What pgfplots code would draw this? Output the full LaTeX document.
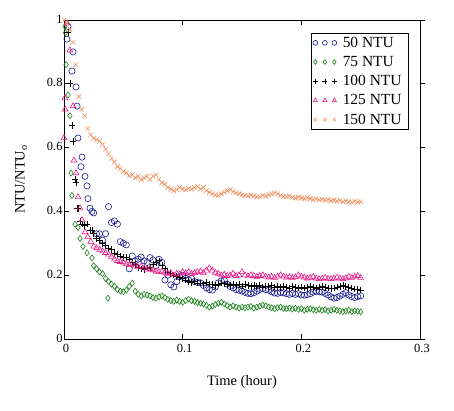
\documentclass[border=0pt]{standalone}
\usepackage{pgfplots}
\pgfplotsset{compat=1.18}
\usepackage{fontspec}
\setmainfont{Liberation Serif}
\definecolor{cblue}{RGB}{25,25,140}
\definecolor{cgreen}{RGB}{30,130,30}
\definecolor{cmag}{RGB}{230,25,135}
\definecolor{corange}{RGB}{240,145,95}
\newcommand{\legtxt}[1]{\hspace*{4bp}\makebox[62bp][l]{#1}}
\begin{document}
\begin{tikzpicture}
\useasboundingbox (-64bp,-72bp) rectangle (390bp,339bp);
\begin{axis}[
  at={(0,0)}, anchor=south west,
  scale only axis, width=356bp, height=319bp,
  xmin=0, xmax=0.3, ymin=0, ymax=1,
  xtick={0,0.1,0.2,0.3}, ytick={0,0.2,0.4,0.6,0.8,1},
  xticklabels={0,0.1,0.2,0.3}, yticklabels={0,0.2,0.4,0.6,0.8,1},
  tick align=inside, xtick pos=both, ytick pos=left,
  major tick length=5bp,
  tick style={black, line width=0.6pt},
  axis line style={line width=0.8pt},
  ticklabel style={font=\fontsize{12.5}{13}\selectfont},
  xticklabel style={yshift=-1.5bp, xshift=2bp},
  yticklabel style={xshift=2bp, yshift=1bp},
  xlabel={Time (hour)}, ylabel={NTU/NTU\textsubscript{o}},
  label style={font=\fontsize{14.5}{15}\selectfont},
  xlabel style={at={(axis description cs:0.5,0)}, anchor=center, yshift=-43bp},
  ylabel style={at={(axis description cs:0,0.5)}, anchor=center, rotate=0, yshift=43bp},
  clip=false,
  legend style={at={(0.694,0.959)}, anchor=north west, draw=black, line width=0.8pt,
    font=\fontsize{15.5}{16}\selectfont, row sep=3.5bp, inner sep=1.5bp,
    cells={anchor=west}},
  legend image code/.code={\draw[mark repeat=1, mark size=2.4bp] plot coordinates {(0bp,0bp)(9.5bp,0bp)(19bp,0bp)};},
]
\addplot[only marks, mark=o, mark size=3.1bp, cblue, line width=0.6pt] coordinates {
(0.0025,0.94)(0.0034,0.98)(0.0067,0.84)(0.0076,0.90)(0.0101,0.79)(0.011,0.73)(0.0118,0.63)
(0.0143,0.54)(0.0152,0.57)(0.0177,0.51)(0.0194,0.48)(0.0202,0.44)(0.0219,0.41)(0.0236,0.40)
(0.025,0.395)(0.0275,0.33)(0.03,0.33)(0.0325,0.31)(0.035,0.33)(0.0375,0.415)(0.04,0.365)
(0.0425,0.37)(0.045,0.36)(0.0475,0.305)(0.05,0.30)(0.0525,0.295)(0.055,0.22)(0.0575,0.26)
(0.06,0.245)(0.0625,0.25)(0.065,0.257)(0.0675,0.245)(0.07,0.24)(0.0725,0.255)(0.075,0.248)
(0.0775,0.23)(0.08,0.25)(0.0825,0.24)(0.085,0.185)(0.0875,0.20)(0.09,0.17)(0.0925,0.163)
(0.095,0.18)(0.0975,0.195)(0.1,0.20)(0.1025,0.19)(0.105,0.185)(0.1075,0.19)(0.11,0.18)
(0.1125,0.177)(0.115,0.176)(0.1175,0.168)(0.12,0.16)(0.1225,0.155)(0.125,0.153)(0.1275,0.163)
(0.13,0.176)(0.1325,0.182)(0.135,0.185)(0.1375,0.172)(0.14,0.165)(0.1425,0.16)(0.145,0.155)
(0.1475,0.153)(0.15,0.15)(0.1525,0.146)(0.155,0.143)(0.1575,0.142)(0.16,0.145)(0.1625,0.15)
(0.165,0.155)(0.1675,0.158)(0.17,0.155)(0.1725,0.153)(0.175,0.148)(0.1775,0.144)(0.18,0.143)
(0.1825,0.146)(0.185,0.145)(0.1875,0.142)(0.19,0.14)(0.1925,0.143)(0.195,0.14)(0.1975,0.142)
(0.2,0.138)(0.2025,0.137)(0.205,0.139)(0.2075,0.142)(0.21,0.147)(0.2125,0.15)(0.215,0.148)
(0.2175,0.147)(0.22,0.143)(0.2225,0.138)(0.225,0.132)(0.2275,0.128)(0.23,0.13)(0.2325,0.135)
(0.235,0.14)(0.2375,0.145)(0.24,0.138)(0.2425,0.133)(0.245,0.13)(0.2475,0.133)(0.25,0.135)
};
\addlegendentry{\legtxt{50 NTU}}
\addplot[only marks, mark=diamond, mark size=3bp, cgreen, line width=0.6pt] coordinates {
(0.0008,0.98)(0.0012,0.96)(0.0017,0.86)(0.0034,0.765)(0.005,0.70)(0.0059,0.52)(0.0067,0.45)
(0.0093,0.36)(0.0118,0.35)(0.0135,0.315)(0.016,0.29)(0.0194,0.27)(0.0236,0.254)
(0.025,0.23)(0.0275,0.22)(0.03,0.21)(0.0325,0.205)(0.035,0.19)(0.037,0.128)(0.0375,0.18)
(0.04,0.172)(0.0425,0.165)(0.045,0.155)(0.0475,0.15)(0.05,0.148)(0.0525,0.153)(0.055,0.165)
(0.0575,0.175)(0.06,0.15)(0.0625,0.14)(0.065,0.135)(0.0675,0.14)(0.07,0.138)(0.0725,0.135)
(0.075,0.13)(0.0775,0.128)(0.08,0.132)(0.0825,0.135)(0.085,0.13)(0.0875,0.124)(0.09,0.12)
(0.0925,0.118)(0.095,0.122)(0.0975,0.118)(0.1,0.115)(0.1025,0.12)(0.105,0.125)(0.1075,0.12)
(0.11,0.118)(0.1125,0.114)(0.115,0.112)(0.1175,0.11)(0.12,0.105)(0.1225,0.1)(0.125,0.103)
(0.1275,0.108)(0.13,0.112)(0.1325,0.115)(0.135,0.11)(0.1375,0.105)(0.14,0.1)(0.1425,0.104)
(0.145,0.1)(0.1475,0.097)(0.15,0.1)(0.1525,0.098)(0.155,0.1)(0.1575,0.102)(0.16,0.097)
(0.1625,0.1)(0.165,0.103)(0.1675,0.106)(0.17,0.104)(0.1725,0.1)(0.175,0.098)(0.1775,0.095)
(0.18,0.098)(0.1825,0.1)(0.185,0.096)(0.1875,0.095)(0.19,0.097)(0.1925,0.094)(0.195,0.096)
(0.1975,0.093)(0.2,0.095)(0.2025,0.09)(0.205,0.093)(0.2075,0.095)(0.21,0.092)(0.2125,0.09)
(0.215,0.093)(0.2175,0.09)(0.22,0.092)(0.2225,0.088)(0.225,0.09)(0.2275,0.093)(0.23,0.09)
(0.2325,0.088)(0.235,0.086)(0.2375,0.088)(0.24,0.09)(0.2425,0.086)(0.245,0.088)(0.2475,0.087)(0.25,0.085)
};
\addlegendentry{\legtxt{75 NTU}}
\addplot[only marks, mark=+, mark size=3.3bp, black, line width=0.7pt] coordinates {
(0.0034,0.96)(0.005,0.80)(0.0067,0.67)(0.0076,0.62)(0.0093,0.50)(0.0101,0.49)(0.011,0.41)
(0.0118,0.41)(0.0135,0.37)(0.0152,0.36)(0.0168,0.355)(0.0194,0.36)(0.0219,0.34)(0.0235,0.34)
(0.025,0.33)(0.0275,0.315)(0.03,0.31)(0.0325,0.30)(0.035,0.295)(0.0375,0.285)(0.04,0.28)
(0.0425,0.27)(0.045,0.265)(0.0475,0.26)(0.05,0.255)(0.0525,0.255)(0.055,0.25)(0.0575,0.24)
(0.06,0.235)(0.0625,0.225)(0.065,0.22)(0.0675,0.218)(0.07,0.222)(0.0725,0.225)(0.075,0.235)
(0.0775,0.24)(0.08,0.245)(0.0825,0.23)(0.085,0.22)(0.0875,0.21)(0.09,0.205)(0.0925,0.20)
(0.095,0.195)(0.0975,0.192)(0.1,0.19)(0.1025,0.185)(0.105,0.18)(0.1075,0.178)(0.11,0.18)
(0.1125,0.176)(0.115,0.175)(0.1175,0.173)(0.12,0.178)(0.1225,0.172)(0.125,0.17)(0.1275,0.168)
(0.13,0.172)(0.1325,0.175)(0.135,0.173)(0.1375,0.17)(0.14,0.168)(0.1425,0.172)(0.145,0.168)
(0.1475,0.17)(0.15,0.166)(0.1525,0.17)(0.155,0.168)(0.1575,0.165)(0.16,0.168)(0.1625,0.165)
(0.165,0.167)(0.1675,0.163)(0.17,0.166)(0.1725,0.164)(0.175,0.168)(0.1775,0.163)(0.18,0.165)
(0.1825,0.162)(0.185,0.165)(0.1875,0.163)(0.19,0.16)(0.1925,0.164)(0.195,0.162)(0.1975,0.16)
(0.2,0.163)(0.2025,0.16)(0.205,0.162)(0.2075,0.165)(0.21,0.162)(0.2125,0.16)(0.215,0.163)
(0.2175,0.165)(0.22,0.162)(0.2225,0.16)(0.225,0.158)(0.2275,0.16)(0.23,0.163)(0.2325,0.165)
(0.235,0.168)(0.2375,0.165)(0.24,0.162)(0.2425,0.16)(0.245,0.157)(0.2475,0.155)(0.25,0.153)
};
\addlegendentry{\legtxt{100 NTU}}
\addplot[only marks, mark=triangle, mark size=3.3bp, cmag, line width=0.6pt] coordinates {
(0,0.63)(0.0008,0.755)(0.001,0.72)(0.0025,0.99)(0.005,0.905)(0.0076,0.73)(0.0084,0.56)
(0.0101,0.52)(0.0118,0.445)(0.0135,0.41)(0.0152,0.373)(0.0177,0.335)(0.02,0.32)(0.0225,0.305)
(0.025,0.29)(0.0275,0.285)(0.03,0.28)(0.0325,0.275)(0.035,0.27)(0.0375,0.265)(0.04,0.258)
(0.0425,0.25)(0.045,0.245)(0.0475,0.242)(0.05,0.24)(0.0525,0.235)(0.055,0.232)(0.0575,0.235)
(0.06,0.228)(0.0625,0.225)(0.065,0.228)(0.0675,0.222)(0.07,0.218)(0.0725,0.22)(0.075,0.216)
(0.0775,0.212)(0.08,0.21)(0.0825,0.212)(0.085,0.208)(0.0875,0.205)(0.09,0.207)(0.0925,0.2)
(0.095,0.205)(0.0975,0.203)(0.1,0.21)(0.1025,0.207)(0.105,0.21)(0.1075,0.205)(0.11,0.207)
(0.1125,0.21)(0.115,0.212)(0.1175,0.208)(0.12,0.215)(0.1225,0.222)(0.125,0.215)(0.1275,0.208)
(0.13,0.205)(0.1325,0.2)(0.135,0.202)(0.1375,0.198)(0.14,0.2)(0.1425,0.205)(0.145,0.198)
(0.1475,0.2)(0.15,0.21)(0.1525,0.2)(0.155,0.197)(0.1575,0.2)(0.16,0.198)(0.1625,0.195)
(0.165,0.198)(0.1675,0.2)(0.17,0.196)(0.1725,0.193)(0.175,0.195)(0.1775,0.192)(0.18,0.196)
(0.1825,0.2)(0.185,0.196)(0.1875,0.193)(0.19,0.195)(0.1925,0.192)(0.195,0.194)(0.1975,0.2)
(0.2,0.196)(0.2025,0.193)(0.205,0.19)(0.2075,0.192)(0.21,0.195)(0.2125,0.19)(0.215,0.188)
(0.2175,0.19)(0.22,0.192)(0.2225,0.189)(0.225,0.188)(0.2275,0.19)(0.23,0.193)(0.2325,0.19)
(0.235,0.188)(0.2375,0.191)(0.24,0.195)(0.2425,0.192)(0.245,0.196)(0.2475,0.198)(0.25,0.192)
};
\addlegendentry{\legtxt{125 NTU}}
\addplot[only marks, mark=x, mark size=3.3bp, corange, line width=0.6pt] coordinates {
(0,1.0)(0.0025,0.99)(0.005,0.97)(0.0075,0.93)(0.01,0.86)(0.0125,0.76)(0.015,0.72)(0.0175,0.70)
(0.02,0.66)(0.0225,0.64)(0.025,0.63)(0.0275,0.625)(0.03,0.62)(0.0325,0.61)(0.035,0.595)
(0.0375,0.58)(0.04,0.565)(0.0425,0.555)(0.045,0.54)(0.0475,0.535)(0.05,0.525)(0.0525,0.52)
(0.055,0.512)(0.0575,0.515)(0.06,0.505)(0.0625,0.51)(0.065,0.50)(0.0675,0.505)(0.07,0.51)
(0.0725,0.50)(0.075,0.51)(0.0775,0.515)(0.08,0.50)(0.0825,0.49)(0.085,0.485)(0.0875,0.475)
(0.09,0.47)(0.0925,0.465)(0.095,0.468)(0.0975,0.475)(0.1,0.47)(0.1025,0.468)(0.105,0.472)
(0.1075,0.47)(0.11,0.475)(0.1125,0.478)(0.115,0.47)(0.1175,0.476)(0.12,0.465)(0.1225,0.46)
(0.125,0.455)(0.1275,0.452)(0.13,0.45)(0.1325,0.455)(0.135,0.46)(0.1375,0.465)(0.14,0.468)
(0.1425,0.462)(0.145,0.458)(0.1475,0.455)(0.15,0.452)(0.1525,0.45)(0.155,0.448)(0.1575,0.452)
(0.16,0.448)(0.1625,0.445)(0.165,0.446)(0.1675,0.45)(0.17,0.448)(0.1725,0.452)(0.175,0.455)
(0.1775,0.458)(0.18,0.455)(0.1825,0.45)(0.185,0.447)(0.1875,0.446)(0.19,0.448)(0.1925,0.444)
(0.195,0.442)(0.1975,0.445)(0.2,0.442)(0.2025,0.44)(0.205,0.443)(0.2075,0.44)(0.21,0.437)
(0.2125,0.44)(0.215,0.436)(0.2175,0.438)(0.22,0.435)(0.2225,0.437)(0.225,0.433)(0.2275,0.436)
(0.23,0.432)(0.2325,0.434)(0.235,0.43)(0.2375,0.433)(0.24,0.43)(0.2425,0.428)(0.245,0.432)
(0.2475,0.429)(0.25,0.43)
};
\addlegendentry{\legtxt{150 NTU}}
\end{axis}
\begin{axis}[
  at={(0,0)}, anchor=south west,
  scale only axis, width=356bp, height=319bp,
  xmin=0, xmax=0.3, ymin=0, ymax=1,
  axis x line=none, axis y line*=right,
  axis line style={line width=0.8pt, -},
  ytick={0,0.2,0.4,0.6,0.8,1}, yticklabels={},
  tick align=outside, major tick length=5bp,
  tick style={black, line width=0.6pt},
]
\addplot[draw=none] coordinates {(0,0)};
\end{axis}
\end{tikzpicture}
\end{document}
